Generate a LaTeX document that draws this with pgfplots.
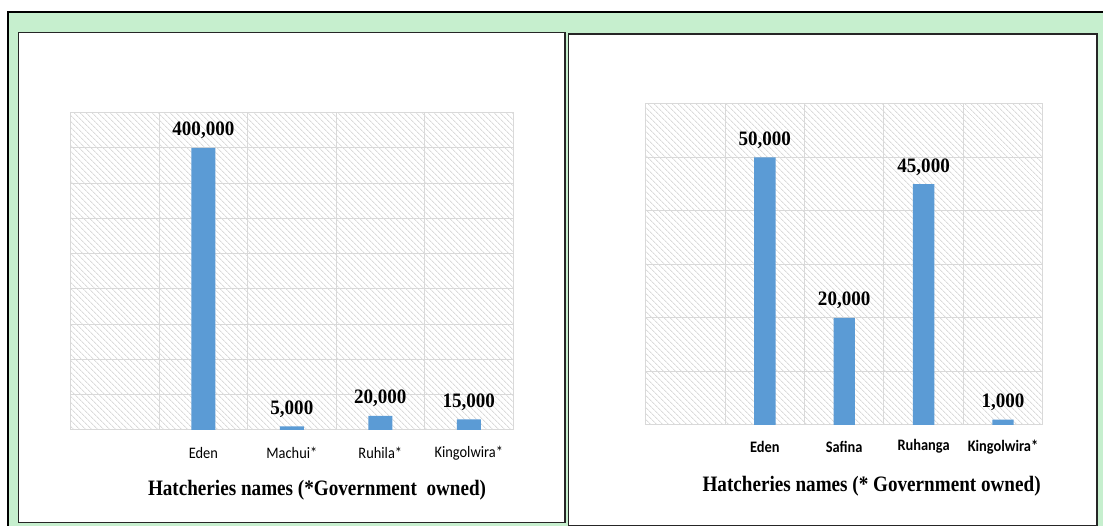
\documentclass[border=0pt]{standalone}
\usepackage{fontspec}
\setmainfont{Liberation Serif}
\newfontfamily\lblfont[FakeStretch=0.93]{Liberation Serif}
\newfontfamily\ttlfont[FakeStretch=0.87]{Liberation Serif}
\newfontfamily\catfont[FakeStretch=0.9]{Carlito}
\usepackage{pgfplots}
\pgfplotsset{compat=1.18}
\usetikzlibrary{patterns.meta}
\definecolor{bgGreen}{HTML}{C6EFCE}
\definecolor{barBlue}{HTML}{5B9BD5}
\definecolor{gridGray}{HTML}{D9D9D9}

\pgfplotsset{
  hatchstyle/.style={
    scale only axis, ybar, ymin=0,
    axis line style={draw=gridGray, line width=1pt},
    xmin=-0.5, xmax=4.5, xtick={1,2,3,4},
    minor xtick={-0.5,0.5,...,4.5},
    xminorgrids=true, ymajorgrids=true, xmajorgrids=false,
    grid style={draw=gridGray, line width=1pt},
    minor grid style={draw=gridGray, line width=1pt},
    major tick length=0pt, minor tick length=0pt,
    yticklabels={}, scaled y ticks=false,
    axis background/.style={pattern={Lines[angle=-45,distance=4pt,line width=0.9pt]}, pattern color=black!14},
    enlarge x limits=false, bar shift=0pt,
    nodes near coords={\pgfmathprintnumber[fixed,precision=0,1000 sep={,},assume math mode=true]{\pgfplotspointmeta}},
    every node near coord/.append style={font=\lblfont\bfseries\fontsize{20.5}{24}\selectfont, text=black, anchor=base, yshift=12pt},
    xlabel style={anchor=center, font=\ttlfont\bfseries\fontsize{22}{26}\selectfont},
  }
}

\begin{document}
\begin{tikzpicture}
\useasboundingbox (0pt,0pt) rectangle (1103pt,526pt);
\fill[white] (0pt,0pt) rectangle (1103pt,526pt);
\fill[bgGreen] (8pt,0pt) rectangle (1103pt,514pt);
\draw[black, line width=2.2pt] (8pt,-2pt) -- (8pt,514pt) -- (1105pt,514pt);
\draw[fill=white, draw=black!85, line width=1.3pt] (18.7pt,3.3pt) rectangle (565pt,493.7pt);
\draw[fill=white, draw=black!85, line width=1.3pt] (568.3pt,0.7pt) rectangle (1097pt,492pt);

\begin{axis}[hatchstyle,
  at={(70.7pt,96pt)}, anchor=south west,
  width=442.3pt, height=317.3pt,
  ymax=450000, ytick={0,50000,...,450000},
  xticklabels={Eden,Machui*,Ruhila*,Kingolwira*},
  xticklabel style={font=\catfont\fontsize{16}{19}\selectfont, anchor=center, yshift=-23pt},
  xlabel={Hatcheries names (*Government\ \ owned)},
  xlabel style={at={(axis description cs:0.557,-0.189)}},
]
\addplot[fill=barBlue, draw=none, bar width=24pt] coordinates {(1,400000) (2,5000) (3,20000) (4,15000)};
\end{axis}

\begin{axis}[hatchstyle,
  at={(645.7pt,101pt)}, anchor=south west,
  width=397pt, height=321pt,
  ymax=60000, ytick={0,10000,...,60000},
  xticklabels={Eden,Safina,Ruhanga,Kingolwira*},
  xticklabel style={font=\catfont\bfseries\fontsize{16}{19}\selectfont, anchor=center, yshift=-21.7pt},
  xlabel={Hatcheries names (* Government owned)},
  xlabel style={at={(axis description cs:0.569,-0.192)}},
]
\addplot[fill=barBlue, draw=none, bar width=21.4pt] coordinates {(1,50000) (2,20000) (3,45000) (4,1000)};
\end{axis}
\end{tikzpicture}
\end{document}
